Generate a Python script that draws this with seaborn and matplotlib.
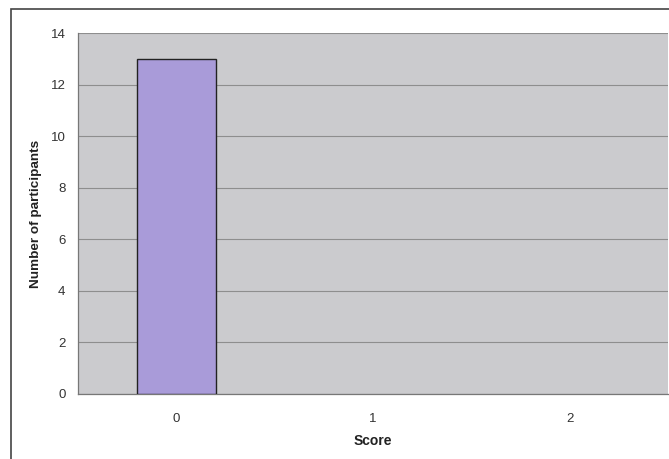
import matplotlib
matplotlib.use("Agg")
import matplotlib.pyplot as plt
import seaborn as sns
import pandas as pd
from matplotlib.patches import Rectangle

scores = ["0", "1", "2"]
participants = [13, 0, 0]
y_ticks = [0, 2, 4, 6, 8, 10, 12, 14]

sns.set_style("white")
plt.rcParams["font.family"] = ["Liberation Sans", "DejaVu Sans"]

df = pd.DataFrame({"Score": scores, "Number of participants": participants})

fig = plt.figure(figsize=(6.69, 4.59), dpi=100)
W, H = 669, 459
ax = fig.add_axes([78 / W, 1 - 394 / H, (668 - 78) / W, (394 - 33) / H])
ax.set_facecolor("#cbcbce")

sns.barplot(data=df, x="Score", y="Number of participants", ax=ax,
            color="#a99bd9", edgecolor="#222222", linewidth=1.0,
            width=0.4, saturation=1, zorder=3)
for p in ax.patches:
    if p.get_height() == 0:
        p.set_linewidth(0)

ax.set_xlim(-0.5, 2.5)
ax.set_ylim(0, 14)
ax.set_yticks(y_ticks)
ax.yaxis.grid(True, color="#8e8e8e", linewidth=0.8, zorder=1)
ax.set_axisbelow(True)

ax.set_xticks([0, 1, 2])
ax.set_xticklabels(scores)
ax.set_xticks([-0.5, 0.5, 1.5, 2.5], minor=True)
ax.tick_params(axis="x", which="major", length=0, pad=14, labelsize=9.5, colors="#333333")
ax.tick_params(axis="x", which="minor", length=5, width=0.8, color="#777777", direction="out")
ax.tick_params(axis="y", length=5, width=0.8, color="#777777", direction="out", labelsize=9.5,
               labelcolor="#333333", pad=4)

ax.set_xlabel("Score", fontsize=10, fontweight="bold", color="#222222", labelpad=6)
ax.set_ylabel("Number of participants", fontsize=9.7, fontweight="bold", color="#222222", labelpad=6)

for s in ["top", "right"]:
    ax.spines[s].set_visible(False)
for s in ["left", "bottom"]:
    ax.spines[s].set_color("#777777")
    ax.spines[s].set_linewidth(0.9)

fig.patches.append(Rectangle((11 / W, -0.05), 1.1, 1 - 9 / H + 0.05, transform=fig.transFigure,
                             fill=False, edgecolor="#444444", linewidth=1.2))

fig.savefig("out.png", dpi=100, facecolor="white")
